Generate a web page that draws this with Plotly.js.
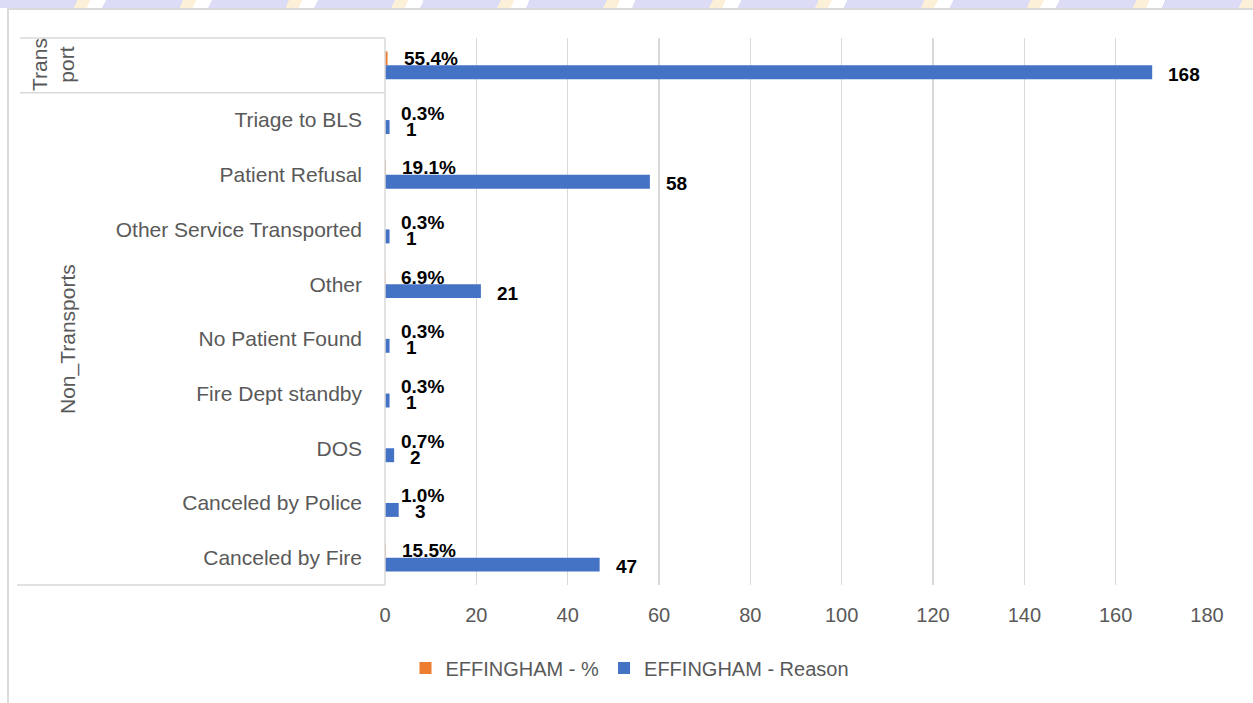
<!DOCTYPE html>
<html>
<head>
<meta charset="utf-8">
<script src="https://cdn.plot.ly/plotly-3.0.1.min.js"></script>
<style>
  html, body { margin: 0; padding: 0; background: #ffffff; }
  #strip { position: absolute; left: 0; top: 0; width: 1253px; height: 8px;
    background: repeating-linear-gradient(115deg, #dcdcf6 0px, #dcdcf6 70px, #fdf0d8 70px, #fdf0d8 82px, #ffffff 82px, #ffffff 96px); }
  #card { position: absolute; left: 7px; top: 8px; width: 1246px; height: 695px;
    border-left: 2px solid #dadada; border-top: 2px solid #dadada; box-sizing: border-box; background: #fff; }
  #chart { position: absolute; left: 0; top: 0; width: 1253px; height: 703px; }
</style>
</head>
<body>
<div id="strip"></div>
<div id="card"></div>
<div id="chart"></div>
<script>
// Categories, top to bottom
const categories = ["Transport", "Triage to BLS", "Patient Refusal", "Other Service Transported", "Other",
  "No Patient Found", "Fire Dept standby", "DOS", "Canceled by Police", "Canceled by Fire"];
const tickLabels = [" ", "Triage to BLS", "Patient Refusal", "Other Service Transported", "Other",
  "No Patient Found", "Fire Dept standby", "DOS", "Canceled by Police", "Canceled by Fire"];
const pctValues = [0.554, 0.003, 0.191, 0.003, 0.069, 0.003, 0.003, 0.007, 0.010, 0.155];
const reasonValues = [168, 1, 58, 1, 21, 1, 1, 2, 3, 47];
const seriesNames = ["EFFINGHAM - %", "EFFINGHAM - Reason"];
const groupLabels = ["Trans<br>port", "Non_Transports"];
const xTicks = [0, 20, 40, 60, 80, 100, 120, 140, 160, 180];

const FONT = "'Liberation Sans', Arial, sans-serif";
const GREY = "#595959";
const ORANGE = "#ED7D31";
const BLUE = "#4472C4";

const traces = [
  { type: "bar", orientation: "h", name: seriesNames[0], y: categories, x: pctValues,
    marker: { color: ORANGE }, hoverinfo: "x+y" },
  { type: "bar", orientation: "h", name: seriesNames[1], y: categories, x: reasonValues,
    marker: { color: BLUE }, hoverinfo: "x+y" }
];

const annotations = [];
pctValues.forEach((v, i) => {
  annotations.push({ x: v, y: categories[i], xref: "x", yref: "y", text: (v * 100).toFixed(1) + "%",
    showarrow: false, xanchor: "left", yanchor: "middle", xshift: 14, yshift: 7,
    font: { family: FONT, size: 19, color: "#000", weight: "bold" } });
});
reasonValues.forEach((v, i) => {
  annotations.push({ x: v, y: categories[i], xref: "x", yref: "y", text: String(v),
    showarrow: false, xanchor: "left", yanchor: "middle", xshift: 14, yshift: -9,
    font: { family: FONT, size: 19, color: "#000", weight: "bold" } });
});
// group labels
annotations.push({ xref: "paper", yref: "paper", x: (53 - 385) / 822, y: (585 - 65) / 547,
  text: groupLabels[0], textangle: -90, showarrow: false, xanchor: "center", yanchor: "middle",
  font: { family: FONT, size: 21, color: GREY } });
annotations.push({ xref: "paper", yref: "paper", x: (68 - 385) / 822, y: (585 - 339) / 547,
  text: groupLabels[1], textangle: -90, showarrow: false, xanchor: "center", yanchor: "middle",
  font: { family: FONT, size: 21, color: GREY } });

const lineStyle = { color: "#d9d9d9", width: 1.5 };
const shapes = [
  { type: "line", xref: "paper", yref: "paper", x0: (20 - 385) / 822, x1: 0, y0: 1, y1: 1, line: lineStyle },
  { type: "line", xref: "paper", yref: "paper", x0: (20 - 385) / 822, x1: 0, y0: 0.9, y1: 0.9, line: lineStyle },
  { type: "line", xref: "paper", yref: "paper", x0: (17 - 385) / 822, x1: 0, y0: 0, y1: 0, line: lineStyle },
  { type: "line", xref: "paper", yref: "paper", x0: 0, x1: 0, y0: 0, y1: 1, line: lineStyle }
];

const layout = {
  width: 1253, height: 703,
  margin: { l: 385, r: 46, t: 38, b: 118 },
  paper_bgcolor: "rgba(0,0,0,0)",
  plot_bgcolor: "rgba(0,0,0,0)",
  barmode: "group", bargap: 0.49, bargroupgap: 0,
  font: { family: FONT, size: 20, color: GREY },
  xaxis: { range: [0, 180], tickvals: xTicks, showgrid: true, gridcolor: "#d9d9d9", gridwidth: 1.5,
    zeroline: false, showline: false, ticks: "", tickfont: { size: 20, color: GREY }, ticklen: 0,
    automargin: false, ticklabelstandoff: 16 },
  yaxis: { type: "category", categoryorder: "array", categoryarray: categories, autorange: "reversed",
    tickvals: categories, ticktext: tickLabels, ticks: "", showgrid: false, zeroline: false,
    showline: false, tickfont: { size: 21, color: GREY }, automargin: false, ticklabelstandoff: 22 },
  showlegend: true,
  legend: { orientation: "h", x: (630 - 385) / 822, xanchor: "center", y: (585 - 668) / 547, yanchor: "middle",
    font: { size: 20, color: GREY }, traceorder: "normal", itemwidth: 30 },
  annotations: annotations,
  shapes: shapes
};

Plotly.newPlot("chart", traces, layout, { displayModeBar: false, staticPlot: true });
</script>
</body>
</html>
